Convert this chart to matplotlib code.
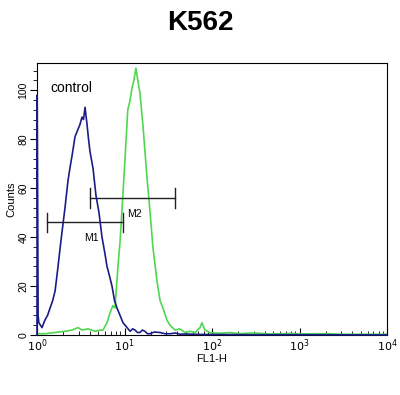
import matplotlib
matplotlib.use("Agg")
import matplotlib.pyplot as plt
from matplotlib.ticker import MultipleLocator, LogLocator, NullFormatter

plt.rcParams['font.family'] = ['Liberation Sans', 'DejaVu Sans']

# control histogram (FL1-H channel value, counts)
ctrl_fl = [1.0, 1.005, 1.03, 1.05, 1.14, 1.23, 1.32, 1.41, 1.51, 1.61, 1.74, 1.83,
           1.93, 2.09, 2.26, 2.40, 2.51, 2.72, 2.94, 3.10, 3.27, 3.40, 3.54, 3.73,
           3.88, 4.03, 4.37, 4.72, 5.11, 5.53, 5.99, 6.31, 6.75, 7.19, 7.70, 8.21,
           8.89, 9.61, 10.7, 11.6, 12.4, 13.2, 14.1, 15.0, 16.0, 17.1, 18.3, 19.5,
           22.0, 25.5, 29.0, 33.1, 38.0, 43.0, 52.0, 60.0, 75.0, 100.0, 300.0,
           1000.0, 10000.0]
ctrl_counts = [0, 98, 8, 5, 3, 6, 8, 11, 14, 18, 28, 35,
               42, 52, 63, 69, 73, 81, 84, 86, 89, 88, 93, 86,
               80, 75, 68, 57, 50, 40, 33, 28, 24, 20, 14, 11,
               8, 5, 3, 1.5, 2.5, 2, 1, 1, 2, 1.5, 0.5, 0.5,
               1.2, 1, 0.5, 0.5, 0.8, 0.3, 0.4, 0.3, 0.2, 0.2, 0.1,
               0.1, 0]

# K562 sample histogram
samp_fl = [1.0, 1.23, 1.61, 2.09, 2.51, 2.94, 3.27, 3.83, 4.6, 5.25, 5.68, 6.31,
           6.83, 7.38, 7.78, 8.42, 8.89, 9.36, 10.1, 10.9, 11.6, 12.2, 12.8, 13.5,
           14.2, 15.0, 16.3, 18.1, 19.5, 21.1, 23.5, 25.5, 27.5, 30.6, 33.1, 37.8,
           43.0, 49.0, 56.0, 64.0, 73.0, 76.7, 83.0, 95.0, 123.0, 160.0, 209.0,
           270.0, 354.0, 450.0, 600.0, 800.0, 1000.0, 1500.0, 2250.0, 3000.0,
           3800.0, 10000.0]
samp_counts = [0.5, 0.5, 1, 1.5, 2, 3, 2, 2.5, 1.5, 2, 2, 5,
               9, 12, 11, 28, 38, 51, 71, 92, 96, 101, 104, 109,
               104, 99, 85, 64, 51, 36, 22, 14, 11, 6, 4, 2,
               2.5, 1, 1.5, 1, 3, 5, 2, 1, 0.7, 1, 0.5,
               0.8, 0.7, 0.4, 0.5, 0.6, 0.4, 0.5, 0.5, 0.3,
               0.3, 0.3]

# marker gates: (start, end, height, label, label position)
gates = [(1.3, 9.6, 46, "M1", 4.2), (4.0, 37.8, 56, "M2", 13.0)]

fig = plt.figure(figsize=(4.0, 3.95), dpi=100)
ax = fig.add_axes([0.0925, 0.152, 0.875, 0.688])

ax.plot(samp_fl, samp_counts, color="#4fd84f", lw=1.2)
ax.plot(ctrl_fl, ctrl_counts, color="#1c1c86", lw=1.2, zorder=3, clip_on=False)

for x0, x1, h, lab, xl in gates:
    ax.plot([x0, x1], [h, h], color="#222222", lw=1.0)
    ax.plot([x0, x0], [h - 4, h + 4], color="#222222", lw=1.0)
    ax.plot([x1, x1], [h - 4, h + 4], color="#222222", lw=1.0)
    ax.text(xl, h - 6.5, lab, fontsize=7.5, ha="center", va="center")

ax.text(1.42, 101, "control", fontsize=10, ha="left", va="center")

ax.set_xscale("log")
ax.set_xlim(1, 10000)
ax.set_ylim(0, 111)
ax.set_xticks([1, 10, 100, 1000, 10000])
ax.set_xticklabels([r"$10^0$", r"$10^1$", r"$10^2$", r"$10^3$", r"$10^4$"], fontsize=8)
ax.xaxis.set_minor_locator(LogLocator(base=10, subs=range(2, 10)))
ax.xaxis.set_minor_formatter(NullFormatter())
ax.tick_params(axis="x", which="major", direction="in", length=5, pad=2)
ax.tick_params(axis="x", which="minor", direction="in", length=3)

ax.set_yticks([0, 20, 40, 60, 80, 100])
ax.yaxis.set_minor_locator(MultipleLocator(4))
ax.tick_params(axis="y", which="major", direction="out", length=5, pad=1, labelsize=7.5)
ax.tick_params(axis="y", which="minor", direction="out", length=3)
for lbl in ax.get_yticklabels():
    lbl.set_rotation(90)
    lbl.set_va("center")

ax.set_xlabel("FL1-H", fontsize=8, labelpad=0)
ax.set_ylabel("Counts", fontsize=8, labelpad=2)

fig.suptitle("K562", fontsize=20, fontweight="bold", y=0.975)

fig.savefig("out.png", dpi=100)
